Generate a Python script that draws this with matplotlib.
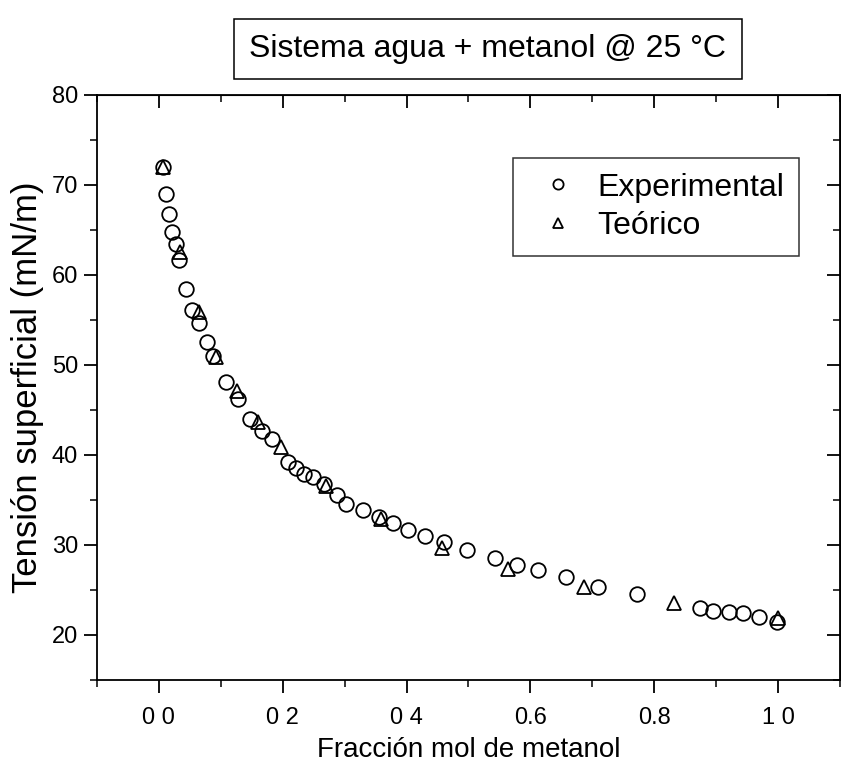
import matplotlib
matplotlib.use("Agg")
import matplotlib.pyplot as plt
from matplotlib.ticker import MultipleLocator, FixedLocator, FixedFormatter

plt.rcParams['font.family'] = ['Liberation Sans', 'DejaVu Sans']

# Experimental surface tension, water + methanol at 25 C
x_exp = [0.006, 0.011, 0.016, 0.021, 0.028, 0.033, 0.044, 0.053, 0.065, 0.077,
         0.087, 0.108, 0.128, 0.147, 0.166, 0.182, 0.209, 0.221, 0.234, 0.249,
         0.267, 0.288, 0.302, 0.329, 0.355, 0.378, 0.402, 0.430, 0.460, 0.498,
         0.543, 0.578, 0.612, 0.658, 0.709, 0.772, 0.874, 0.895, 0.920, 0.944,
         0.970, 0.999]
y_exp = [72.0, 69.0, 66.8, 64.8, 63.4, 61.7, 58.4, 56.1, 54.7, 52.5,
         51.0, 48.1, 46.2, 44.0, 42.7, 41.8, 39.2, 38.6, 37.9, 37.5,
         36.8, 35.5, 34.5, 33.9, 33.1, 32.4, 31.7, 31.0, 30.3, 29.4,
         28.5, 27.8, 27.2, 26.4, 25.3, 24.5, 23.0, 22.7, 22.6, 22.4,
         22.0, 21.4]

# Model values
x_teo = [0.006, 0.034, 0.065, 0.093, 0.126, 0.160, 0.197, 0.270, 0.358, 0.458,
         0.564, 0.687, 0.832, 1.000]
y_teo = [72.0, 62.6, 55.9, 50.9, 47.1, 43.7, 40.9, 36.6, 32.9, 29.7,
         27.3, 25.3, 23.6, 21.9]

x_ticks = [0.0, 0.2, 0.4, 0.6, 0.8, 1.0]
x_ticklabels = ["0 0", "0 2", "0 4", "0.6", "0.8", "1 0"]
y_ticks = [20, 30, 40, 50, 60, 70, 80]

fig = plt.figure(figsize=(8.41, 7.72), dpi=100)
ax = fig.add_axes([0.1153, 0.1192, 0.8835, 0.7578])

ax.plot(x_exp, y_exp, linestyle='none', marker='o', markersize=10.5,
        markerfacecolor='none', markeredgecolor='black', markeredgewidth=1.3,
        label='Experimental')
ax.plot(x_teo, y_teo, linestyle='none', marker='^', markersize=10.5,
        markerfacecolor='none', markeredgecolor='black', markeredgewidth=1.3,
        label='Teórico')

ax.set_xlim(-0.1, 1.1)
ax.set_ylim(15, 80)
ax.xaxis.set_major_locator(FixedLocator(x_ticks))
ax.xaxis.set_major_formatter(FixedFormatter(x_ticklabels))
ax.xaxis.set_minor_locator(MultipleLocator(0.1))
ax.yaxis.set_major_locator(FixedLocator(y_ticks))
ax.yaxis.set_minor_locator(MultipleLocator(5))

ax.tick_params(axis='both', which='major', labelsize=17, length=9.5, width=1.3,
               direction='out')
ax.tick_params(axis='both', which='minor', length=5, width=1.1,
               direction='out')
ax.tick_params(axis='x', which='major', pad=10)
ax.tick_params(axis='y', which='major', pad=4)

# outer ticks on left/bottom, inner ticks on top/right
sec_top = ax.secondary_xaxis('top')
sec_top.set_xticks(x_ticks)
sec_top.xaxis.set_minor_locator(MultipleLocator(0.1))
sec_top.tick_params(which='major', direction='in', length=9.5, width=1.3)
sec_top.tick_params(which='minor', direction='in', length=5, width=1.1)
sec_top.set_xticklabels([])
sec_right = ax.secondary_yaxis('right')
sec_right.set_yticks(y_ticks)
sec_right.yaxis.set_minor_locator(MultipleLocator(5))
sec_right.tick_params(which='major', direction='in', length=9.5, width=1.3)
sec_right.tick_params(which='minor', direction='in', length=5, width=1.1)
sec_right.set_yticklabels([])

for sp in ax.spines.values():
    sp.set_linewidth(1.3)

ax.set_xlabel('Fracción mol de metanol', fontsize=20, labelpad=5.5)
ax.set_ylabel('Tensión superficial (mN/m)', fontsize=25, labelpad=6)

leg = ax.legend(loc='upper left', bbox_to_anchor=(0.56, 0.892),
                borderaxespad=0, fontsize=23, frameon=True, fancybox=False,
                edgecolor='black', markerscale=0.7, handlelength=1.9,
                handletextpad=0.3, borderpad=0.45, labelspacing=0.28)
leg.get_frame().set_linewidth(1.1)

fig.text(0.580, 0.9365, 'Sistema agua + metanol @ 25 °C', fontsize=23,
         ha='center', va='center',
         bbox=dict(boxstyle='square,pad=0.48', facecolor='white',
                   edgecolor='black', linewidth=1.1))

fig.savefig('out.png', dpi=100)
